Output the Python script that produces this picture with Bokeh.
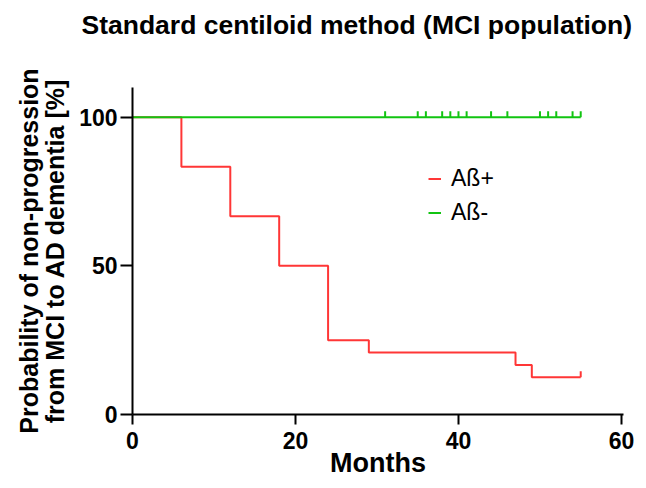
from bokeh.plotting import figure
from bokeh.models import Range1d, FixedTicker, Title, Legend, LegendItem, LinearAxis
from bokeh.embed import file_html
from bokeh.resources import INLINE
import math

# Data (Kaplan-Meier style steps)
pos_time = [0, 6, 12, 18, 24, 29, 47, 49, 55]
pos_surv = [100, 83.33, 66.67, 50, 25, 20.83, 16.67, 12.5, 12.5]
pos_censor_time = [55]
pos_censor_surv = [12.5]

neg_time = [0, 55]
neg_surv = [100, 100]
neg_censor_time = [31, 35, 36, 38, 39, 40, 41, 44, 46, 50, 51, 52, 54, 55]
neg_censor_surv = [100] * len(neg_censor_time)

x_ticks = [0, 20, 40, 60]
y_ticks = [0, 50, 100]

TITLE = "Standard centiloid method (MCI population)"
RED = "#ff3636"
GREEN = "#11c411"
FONT = "Liberation Sans"

p = figure(width=638, height=480, output_backend="svg", toolbar_location=None,
           x_range=Range1d(0, 60.25), y_range=Range1d(0, 110))
p.min_border_left = 132
p.min_border_right = 15
p.min_border_top = 87
p.min_border_bottom = 66
p.outline_line_color = None
p.xgrid.visible = False
p.ygrid.visible = False
p.background_fill_color = "white"
p.border_fill_color = "white"

xax = p.below[0]
yax = p.left[0]

for ax in (xax, yax):
    ax.axis_line_width = 2
    ax.axis_line_color = "black"
    ax.major_tick_line_width = 2
    ax.major_tick_line_color = "black"
    ax.major_tick_in = 0
    ax.minor_tick_line_color = None
    ax.major_label_text_font = FONT
    ax.major_label_text_font_size = "23px"
    ax.major_label_text_font_style = "bold"
    ax.major_label_text_color = "black"
    ax.axis_label_text_font = FONT
    ax.axis_label_text_font_style = "bold"
    ax.axis_label_text_color = "black"

xax.ticker = FixedTicker(ticks=x_ticks)
yax.ticker = FixedTicker(ticks=y_ticks)
xax.major_tick_out = 10
yax.major_tick_out = 12
xax.axis_label = "Months"
xax.axis_label_text_font_size = "27px"
xax.axis_label_standoff = -4
xax.major_label_standoff = 7
yax.axis_label = "Probability of non-progression\nfrom MCI to AD dementia [%]"
yax.axis_label_text_font_size = "25px"
yax.axis_label_text_line_height = 0.95
yax.axis_label_standoff = 7
yax.major_label_standoff = 3

# invisible spacer between frame and title: one white tick, empty label
spacer = LinearAxis(ticker=FixedTicker(ticks=[30]), axis_line_color=None,
                    major_tick_line_color="white", minor_tick_line_color=None,
                    major_tick_in=0, major_tick_out=46, minor_tick_out=0,
                    major_label_overrides={30: ""}, major_label_text_font_size="1px",
                    major_label_standoff=0, axis_label_standoff=0)
p.add_layout(spacer, "above")

title = Title(text=TITLE, align="left", offset=-51, vertical_align="bottom",
              text_font=FONT, text_font_size="26.5px", text_font_style="bold",
              text_color="black", standoff=4)
p.add_layout(title, "above")

# Curves
r_pos = p.step(pos_time, pos_surv, mode="after", line_color=RED, line_width=2)
r_neg = p.line(neg_time, neg_surv, line_color=GREEN, line_width=2)

# Censor ticks (upward)
p.ray(x=pos_censor_time, y=pos_censor_surv, length=6, length_units="screen",
      angle=math.pi / 2, line_color=RED, line_width=2)
p.ray(x=neg_censor_time, y=neg_censor_surv, length=6, length_units="screen",
      angle=math.pi / 2, line_color=GREEN, line_width=2)

legend = Legend(items=[LegendItem(label="Aß+", renderers=[r_pos]),
                       LegendItem(label="Aß-", renderers=[r_neg])],
                location=(296, 188), orientation="vertical")
legend.padding = 0
legend.margin = 0
legend.spacing = 7
legend.glyph_width = 13
legend.glyph_height = 27
legend.label_height = 27
legend.label_standoff = 10
legend.label_text_font = FONT
legend.label_text_font_size = "23px"
legend.label_text_color = "black"
legend.border_line_color = None
legend.background_fill_alpha = 0
p.add_layout(legend, "center")

open("out.html", "w").write(file_html(p, INLINE))
